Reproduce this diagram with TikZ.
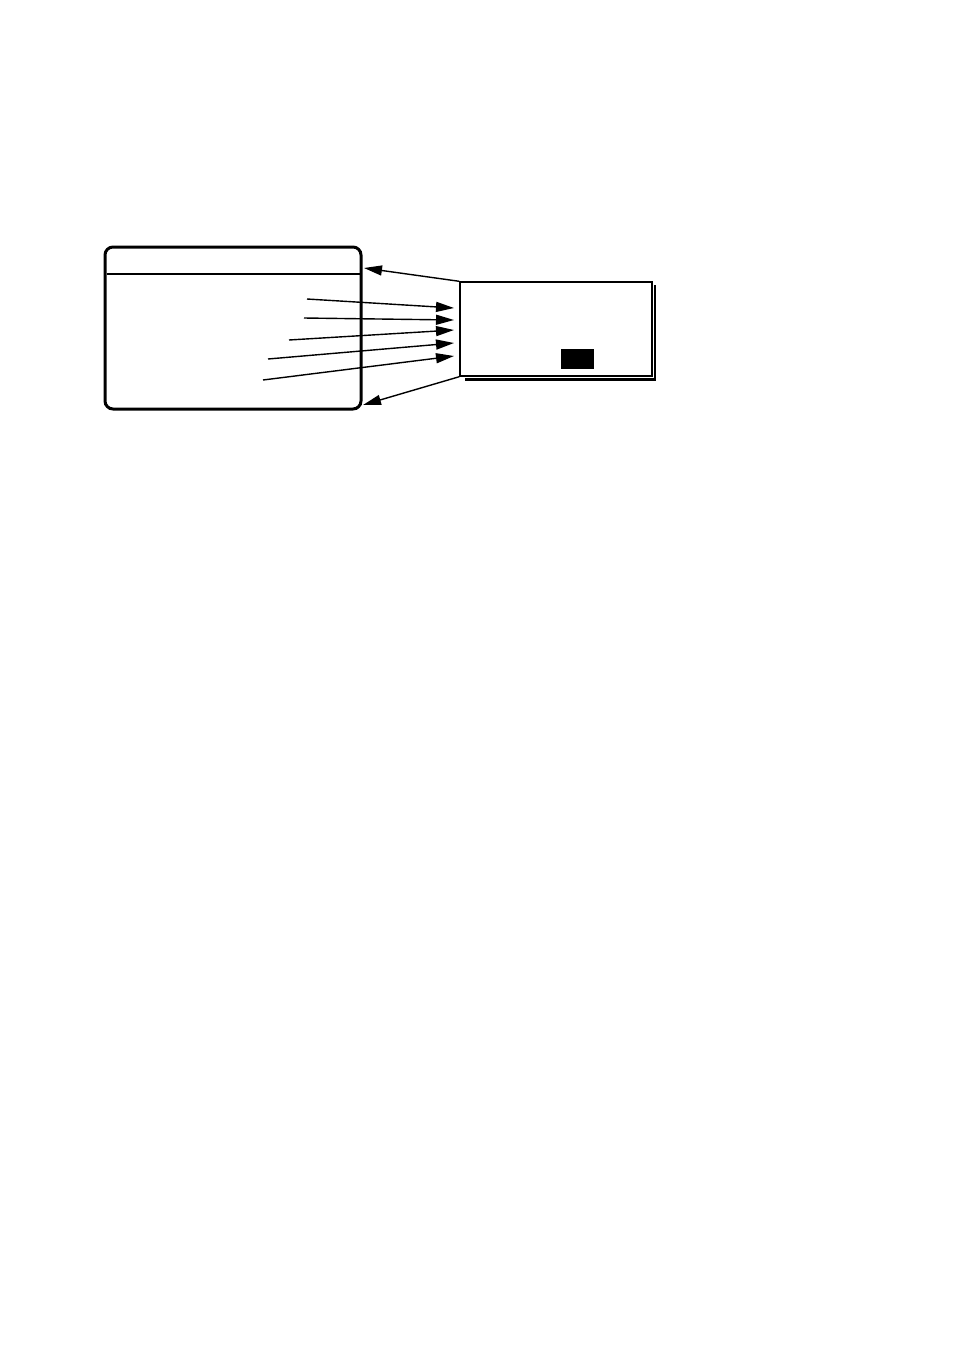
\documentclass[tikz,border=0pt]{standalone}
\usetikzlibrary{fit,arrows.meta}
\begin{document}
\begin{tikzpicture}[x=0.5pt,y=-0.5pt,
  frame/.style={draw, line width=1.5pt, rounded corners=4pt, inner sep=0pt},
  panel/.style={draw, line width=0.7pt, inner sep=0pt},
  shadowline/.style={line width=1.3pt},
  ptr/.style={line width=0.7pt, -{Triangle[length=9pt,width=5pt]}}]
\useasboundingbox (0,0) rectangle (954,1350);
% left display frame
\node[frame, fit={(105,247) (361,409)}] (L) {};
\draw[line width=0.7pt] (106.5,274) coordinate (hl) -- (359.5,274) coordinate (hr);
% right panel
\node[panel, fit={(460,282) (652,376)}] (R) {};
\draw[shadowline] (465,379.5) -- (655,379.5) -- (655,285);
\node[fill=black, inner sep=0pt, fit={(561,349) (594,369)}] (K) {};
% arrows to left frame
\coordinate (t1) at (364,268);
\coordinate (t2) at (363,405);
\draw[ptr] (R.north west) -- (t1);
\draw[ptr] (R.south west) -- (t2);
% arrows into panel
\coordinate (s1) at (307,299); \coordinate (e1) at (454,308);
\coordinate (s2) at (304,318); \coordinate (e2) at (454,320);
\coordinate (s3) at (289,340); \coordinate (e3) at (454,330);
\coordinate (s4) at (268,359); \coordinate (e4) at (454,343);
\coordinate (s5) at (263,380); \coordinate (e5) at (454,356);
\foreach \i in {1,...,5} \draw[ptr] (s\i) -- (e\i);
\end{tikzpicture}
\end{document}
